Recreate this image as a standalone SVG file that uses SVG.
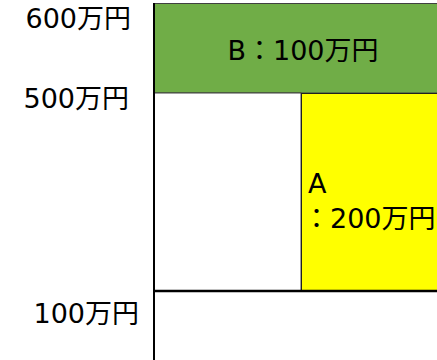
<svg xmlns="http://www.w3.org/2000/svg" width="437" height="360" viewBox="0 0 437 360">
<style>
text{font-family:"DejaVu Sans","Noto Sans CJK JP",sans-serif;font-size:27px;fill:#000}
.lbl{text-anchor:end}
</style>
<rect width="437" height="360" fill="#fff"/>
<g id="B">
<rect x="154" y="3.5" width="290" height="89.5" fill="#70AD47" stroke="#404040" stroke-width="1"/>
<text x="303" y="60" text-anchor="middle">B：100万円</text>
</g>
<g id="empty">
<rect x="154" y="93" width="147" height="198" fill="#fff" stroke="#404040" stroke-width="1"/>
</g>
<g id="A">
<rect x="301.5" y="93.5" width="140" height="197.5" fill="#FFFF00" stroke="#202020" stroke-width="1"/>
<text x="308" y="193">A</text>
<text x="303" y="228">：200万円</text>
</g>
<g id="axes">
<line x1="154" y1="291" x2="437" y2="291" stroke="#000" stroke-width="2.5"/>
<line x1="154" y1="3" x2="154" y2="360" stroke="#000" stroke-width="2"/>
</g>
<g id="labels">
<text class="lbl" x="131" y="28">600万円</text>
<text class="lbl" x="129" y="108">500万円</text>
<text class="lbl" x="139" y="323">100万円</text>
</g>
</svg>
